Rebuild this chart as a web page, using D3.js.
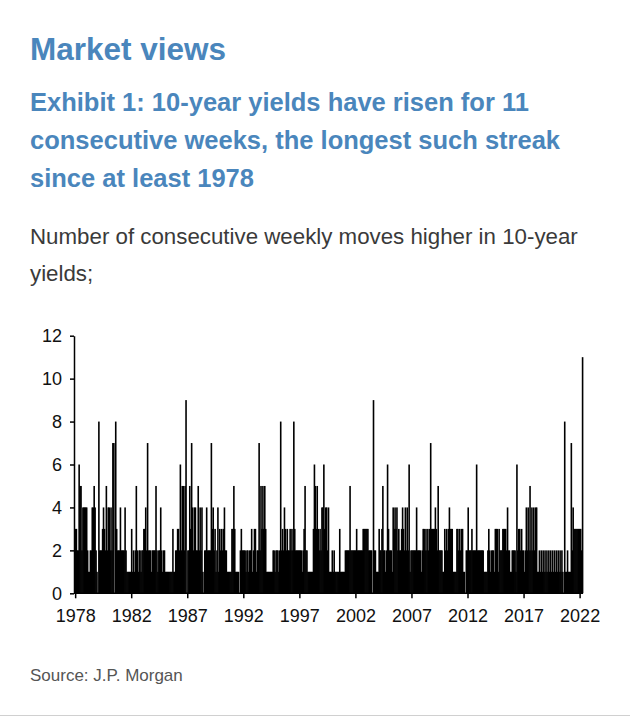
<!DOCTYPE html>
<html>
<head>
<meta charset="utf-8">
<script src="https://cdn.jsdelivr.net/npm/d3@7"></script>
<style>
  body { margin: 0; background: #fff; }
  svg { display: block; }
  text { font-family: "Liberation Sans", Arial, Helvetica, sans-serif; }
</style>
</head>
<body>
<script>
// peak number of consecutive weekly rises in 10y yields, read month by month (Jan..Dec)
var startYear = 1978;
var monthlyStreaks = [
    [3,3,2,2,6,5,5,2,4,4,4,4], // 1978
    [4,2,1,1,2,2,4,4,5,4,2,1], // 1979
    [0,8,2,2,2,3,4,3,2,5,2,4], // 1980
    [4,2,4,2,7,7,0,8,3,2,2,2], // 1981
    [4,2,2,2,2,4,2,1,1,1,1,1], // 1982
    [3,1,2,1,2,5,2,1,2,2,1,2], // 1983
    [2,3,3,4,2,7,2,2,2,1,2,2], // 1984
    [2,2,5,2,1,2,2,4,2,1,2,2], // 1985
    [1,1,1,1,1,1,1,1,3,1,1,2], // 1986
    [2,3,3,2,6,2,5,5,2,5,9,0], // 1987
    [2,2,5,3,7,4,2,4,4,2,2,5], // 1988
    [2,4,2,4,1,0,2,2,4,2,2,2], // 1989
    [2,7,3,4,2,3,1,2,4,1,3,2], // 1990
    [3,2,3,4,2,2,1,1,1,1,1,3], // 1991
    [3,5,3,1,1,1,1,0,2,3,2,2], // 1992
    [2,2,1,2,2,1,2,2,3,1,2,3], // 1993
    [3,1,2,2,7,2,5,3,5,3,5,3], // 1994
    [1,1,1,1,1,1,1,2,2,1,2,2], // 1995
    [2,1,2,8,2,3,2,4,3,2,3,2], // 1996
    [2,3,2,3,2,8,3,2,2,2,2,2], // 1997
    [2,2,1,2,3,5,2,2,1,1,1,1], // 1998
    [1,1,3,6,5,3,5,3,2,3,2,4], // 1999
    [4,6,3,4,4,2,4,1,1,1,2,1], // 2000
    [2,1,1,1,1,1,3,1,1,1,1,1], // 2001
    [2,2,2,2,2,5,2,2,2,2,2,2], // 2002
    [3,2,2,2,2,2,2,3,3,3,3,3], // 2003
    [3,2,2,2,2,0,9,2,2,1,1,1], // 2004
    [3,2,2,3,5,2,2,1,2,6,3,2], // 2005
    [2,2,1,4,3,4,3,4,2,3,2,2], // 2006
    [3,4,3,2,4,2,4,2,6,1,2,2], // 2007
    [2,2,2,2,4,2,2,2,2,1,2,3], // 2008
    [3,2,3,2,3,2,3,7,3,3,3,3], // 2009
    [4,3,2,5,2,2,2,2,1,1,3,2], // 2010
    [3,2,3,4,3,3,3,1,1,1,1,3], // 2011
    [3,2,3,2,3,3,1,1,0,2,2,4], // 2012
    [2,2,2,3,2,2,2,2,6,2,2,2], // 2013
    [2,2,2,2,1,1,1,1,2,3,2,1], // 2014
    [2,2,2,1,3,3,3,1,3,2,2,2], // 2015
    [3,3,3,3,2,4,2,2,1,1,2,2], // 2016
    [2,2,1,6,2,3,3,2,3,2,2,1], // 2017
    [2,4,2,4,2,5,2,4,2,4,2,4], // 2018
    [4,1,1,2,1,2,1,2,1,2,1,2], // 2019
    [1,2,1,2,1,2,1,2,1,2,1,2], // 2020
    [1,2,1,2,1,0,8,1,1,2,1,1], // 2021
    [1,7,2,4,3,3,3,3,3,3,3,3], // 2022
    [2,11]                     // 2023
];

var yTicks = [0, 2, 4, 6, 8, 10, 12];
var xTickLabels = ["1978", "1982", "1987", "1992", "1997", "2002", "2007", "2012", "2017", "2022"];

var titleLines = [
    "Exhibit 1: 10-year yields have risen for 11",
    "consecutive weeks, the longest such streak",
    "since at least 1978"
];
var subtitleLines = [
    "Number of consecutive weekly moves higher in 10-year",
    "yields;"
];

window.onload = drawChart();

function drawChart(){

    var width = 630,
        height = 716;

    var blue = "#4a86bc";

    var svg = d3.select("body")
        .append("svg")
        .attr("width", width)
        .attr("height", height);

    svg.append("rect")
        .attr("width", width)
        .attr("height", height)
        .attr("fill", "#fff");

    // headings
    svg.append("text")
        .attr("x", 30)
        .attr("y", 60)
        .attr("fill", blue)
        .attr("font-size", 31.5)
        .attr("font-weight", "bold")
        .text("Market views");

    svg.selectAll(".title")
        .data(titleLines)
        .enter()
        .append("text")
        .attr("class", "title")
        .attr("x", 30)
        .attr("y", function(d, i){ return 111 + i * 38; })
        .attr("fill", blue)
        .attr("font-size", 25.5)
        .attr("font-weight", "bold")
        .text(function(d){ return d; });

    svg.selectAll(".subtitle")
        .data(subtitleLines)
        .enter()
        .append("text")
        .attr("class", "subtitle")
        .attr("x", 30)
        .attr("y", function(d, i){ return 244 + i * 37; })
        .attr("fill", "#3a3a3a")
        .attr("font-size", 22.3)
        .text(function(d){ return d; });

    svg.append("text")
        .attr("x", 30)
        .attr("y", 681)
        .attr("fill", "#555")
        .attr("font-size", 17)
        .text("Source: J.P. Morgan");

    svg.append("line")
        .attr("x1", 0)
        .attr("x2", width)
        .attr("y1", 715.5)
        .attr("y2", 715.5)
        .attr("stroke", "#d0d0d0");

    // flatten months into dated points
    var data = [];
    monthlyStreaks.forEach(function(row, yi){
        row.forEach(function(v, m){
            data.push({ date: new Date(startYear + yi, m, 1), value: v });
        });
    });

    var lastDate = d3.timeMonth.offset(data[data.length - 1].date, 1);

    var x = d3.scaleTime()
        .domain([new Date(startYear, 0, 1), lastDate])
        .range([75, 583]);

    var y = d3.scaleLinear()
        .domain([0, 12])
        .range([593.3, 335.7]);

    var barW = 1.6;

    svg.append("g")
        .selectAll("rect")
        .data(data.filter(function(d){ return d.value > 0; }))
        .enter()
        .append("rect")
        .attr("x", function(d){ return x(d.date) - 0.35; })
        .attr("y", function(d){ return y(d.value); })
        .attr("width", barW)
        .attr("height", function(d){ return y(0) - y(d.value); })
        .attr("fill", "#000");

    // ticks every 260 weeks from the first week
    var firstWeek = new Date(startYear, 0, 6);
    var tickDates = xTickLabels.map(function(l, i){ return d3.timeWeek.offset(firstWeek, 260 * i); });

    var xAxis = d3.axisBottom(x)
        .tickValues(tickDates)
        .tickFormat(function(d, i){ return xTickLabels[i]; })
        .tickSize(5)
        .tickSizeOuter(0)
        .tickPadding(11);

    var gx = svg.append("g")
        .attr("transform", "translate(0," + y(0) + ")")
        .call(xAxis);
    gx.select(".domain").attr("d", "M74,0H583");

    var yAxis = d3.axisLeft(y)
        .tickValues(yTicks)
        .tickSize(4)
        .tickSizeOuter(0)
        .tickPadding(8);

    var gy = svg.append("g")
        .attr("transform", "translate(74,0)")
        .call(yAxis);

    [gx, gy].forEach(function(g){
        g.selectAll("path, line").attr("stroke", "#000").attr("stroke-width", 1.5);
        g.selectAll("text")
            .attr("font-family", "'Liberation Sans', Arial, sans-serif")
            .attr("font-size", 18)
            .attr("fill", "#111");
    });
};
</script>
</body>
</html>
